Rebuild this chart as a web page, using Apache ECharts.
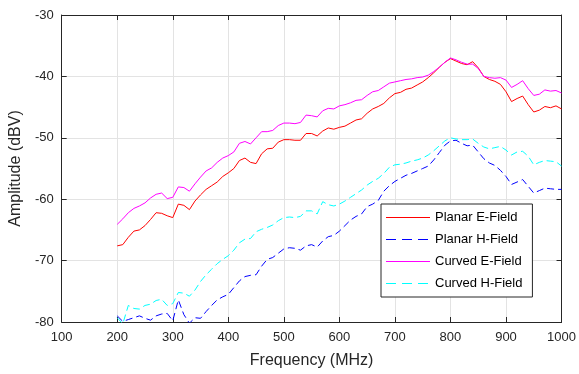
<!DOCTYPE html>
<html><head><meta charset="utf-8">
<script src="https://cdn.jsdelivr.net/npm/echarts@6/dist/echarts.min.js"></script>
<style>html,body{margin:0;padding:0;background:#fff}#c{width:579px;height:374px}</style>
</head><body><div id="c"></div>
<script>
const freq = [200,210,220,230,240,250,260,270,280,290,300,310,320,330,340,350,360,370,380,390,400,410,420,430,440,450,460,470,480,490,500,510,520,530,540,550,560,570,580,590,600,610,620,630,640,650,660,670,680,690,700,710,720,730,740,750,760,770,780,790,800,810,820,830,840,850,860,870,880,890,900,910,920,930,940,950,960,970,980,990,1000];
const planarE = [-67.6,-67.4,-66.2,-65.2,-65.0,-64.3,-63.3,-62.2,-62.3,-62.7,-63.0,-60.8,-61.0,-61.7,-60.3,-59.3,-58.4,-57.8,-57.2,-56.3,-55.7,-55.0,-53.7,-53.3,-54.0,-54.2,-52.6,-51.8,-51.7,-50.7,-50.3,-50.3,-50.4,-50.4,-49.3,-49.3,-49.7,-48.9,-48.4,-48.6,-48.3,-48.1,-47.6,-47.1,-46.9,-46.0,-45.3,-44.9,-44.4,-43.5,-42.8,-42.6,-42.1,-41.9,-41.4,-40.9,-40.2,-39.4,-38.5,-37.7,-37.1,-37.5,-37.9,-38.1,-37.6,-38.6,-40.0,-40.5,-40.8,-41.3,-42.5,-44.1,-43.6,-43.2,-44.6,-45.8,-45.5,-44.9,-45.1,-44.8,-45.3];
const planarH = [-79.0,-79.9,-79.6,-79.3,-79.0,-79.4,-79.7,-79.0,-78.7,-78.6,-79.8,-76.4,-78.8,-80.2,-79.3,-79.4,-78.3,-77.3,-76.4,-75.9,-75.5,-74.4,-73.3,-72.6,-72.4,-72.3,-70.9,-69.8,-69.5,-68.8,-68.1,-67.9,-68.0,-68.3,-67.6,-67.4,-67.8,-66.8,-66.1,-65.9,-65.2,-64.3,-63.4,-62.8,-62.4,-61.2,-60.8,-60.2,-58.7,-57.8,-57.1,-56.6,-56.1,-55.8,-55.4,-55.0,-54.6,-53.6,-52.4,-51.2,-50.5,-50.4,-50.9,-51.3,-51.2,-52.3,-53.4,-54.1,-54.5,-55.3,-56.3,-57.6,-57.2,-56.8,-57.9,-59.0,-58.6,-58.2,-58.3,-58.4,-58.4];
const curvedE = [-64.1,-63.2,-62.2,-61.5,-61.1,-60.6,-59.8,-59.2,-59.0,-59.9,-59.7,-58.0,-58.1,-58.7,-57.5,-56.4,-55.4,-54.9,-54.0,-53.3,-52.9,-52.3,-50.9,-50.6,-51.0,-50.0,-49.0,-49.0,-48.8,-48.0,-47.6,-47.6,-47.7,-47.5,-46.3,-46.4,-46.6,-45.6,-45.2,-45.3,-44.8,-44.6,-44.3,-43.9,-43.8,-43.1,-42.5,-42.3,-41.7,-41.1,-40.9,-40.7,-40.5,-40.4,-40.2,-40.1,-39.8,-39.2,-38.5,-37.7,-37.0,-37.3,-37.7,-38.0,-38.0,-38.7,-40.0,-40.2,-40.3,-40.2,-40.6,-41.8,-41.3,-40.7,-42.0,-43.1,-42.9,-42.2,-42.4,-42.3,-42.7];
const curvedH = [-79.3,-80.3,-77.3,-77.8,-77.9,-77.3,-77.1,-76.5,-76.3,-77.3,-77.0,-75.2,-75.3,-75.8,-74.8,-73.4,-72.3,-71.4,-70.5,-69.8,-69.2,-68.3,-67.1,-66.5,-66.4,-65.3,-64.9,-64.6,-64.2,-63.5,-63.0,-62.9,-63.0,-62.8,-61.9,-61.9,-62.4,-60.4,-60.9,-61.1,-60.8,-60.3,-59.7,-59.1,-58.5,-57.7,-57.1,-56.6,-55.8,-54.8,-54.4,-54.3,-54.1,-53.8,-53.6,-53.3,-52.8,-52.1,-51.3,-50.5,-50.0,-50.2,-50.3,-50.3,-50.2,-50.9,-51.5,-51.8,-51.6,-51.4,-52.0,-52.8,-52.3,-52.2,-53.0,-54.4,-54.0,-53.7,-53.8,-53.9,-54.6];
const seriesNames = ['Planar E-Field','Planar H-Field','Curved E-Field','Curved H-Field'];
const seriesColors = ['#FF0000','#0000FF','#FF00FF','#00FFFF'];
const seriesDashed = [false,true,false,true];
const xTicks = {min:100, max:1000, interval:100};
const yTicks = {min:-80, max:-30, interval:10};

const FONT = "'Liberation Sans', Arial, sans-serif";
const AX = '#262626';
// legend swatches: a 1px line in a 44x13 box (tiny corner specks keep the box size)
const ICON_SOLID = 'path://M0,0l0.01,0l0,0.01z M0,6h44v1h-44z M44,13l-0.01,0l0,-0.01z';
const ICON_DASH = 'path://M0,0l0.01,0l0,0.01z M0,6h10v1h-10z M16,6h10v1h-10z M32,6h10v1h-10z M44,13l-0.01,0l0,-0.01z';
const chart = echarts.init(document.getElementById('c'), null, {renderer:'canvas'});
function pairs(ys){ return freq.map((f,i)=>[f, ys[i]]); }
function mkSeries(i, ys){
  const color = seriesColors[i];
  return {name:seriesNames[i], type:'line', data:pairs(ys), symbol:'none', clip:true, animation:false,
    lineStyle:{color, width:1, type: seriesDashed[i] ? [7,4] : 'solid'}, itemStyle:{color}};
}
const axisCommon = {axisLine:{show:true,lineStyle:{color:AX,width:1}}, axisTick:{show:true,inside:true,length:5,lineStyle:{color:AX}}};
chart.setOption({
  animation:false,
  color: seriesColors,
  grid:{left:61, right:17, top:15, bottom:48, containLabel:false},
  xAxis:[
    Object.assign({type:'value', min:xTicks.min, max:xTicks.max, interval:xTicks.interval, position:'bottom',
      name:'Frequency (MHz)', nameLocation:'middle', nameGap:31,
      nameTextStyle:{fontFamily:FONT, fontSize:16, color:AX},
      axisLabel:{fontFamily:FONT, fontSize:13, color:AX, margin:9, formatter:(v)=>String(v)},
      splitLine:{show:true, lineStyle:{color:'#E3E3E3', width:1}}}, axisCommon),
    Object.assign({type:'value', min:xTicks.min, max:xTicks.max, interval:xTicks.interval, position:'top',
      axisLabel:{show:false}, splitLine:{show:false}}, axisCommon)
  ],
  yAxis:[
    Object.assign({type:'value', min:yTicks.min, max:yTicks.max, interval:yTicks.interval, position:'left',
      name:'Amplitude (dBV)', nameLocation:'middle', nameGap:30, nameRotate:90,
      nameTextStyle:{fontFamily:FONT, fontSize:16, color:AX},
      axisLabel:{fontFamily:FONT, fontSize:13, color:AX, margin:8, formatter:(v)=>String(v)},
      splitLine:{show:true, lineStyle:{color:'#E3E3E3', width:1}}}, axisCommon),
    Object.assign({type:'value', min:yTicks.min, max:yTicks.max, interval:yTicks.interval, position:'right',
      axisLabel:{show:false}, splitLine:{show:false}}, axisCommon)
  ],
  legend:{show:true, orient:'vertical', left:381, top:204,
    data:seriesNames.map((n,i)=>({name:n, icon: seriesDashed[i] ? ICON_DASH : ICON_SOLID,
      itemStyle:{color:seriesColors[i], borderWidth:0}})),
    backgroundColor:'#fff', borderColor:AX, borderWidth:1, borderRadius:0,
    padding:[7,10,7,5], itemWidth:44, itemHeight:13, itemGap:9, symbolKeepAspect:false,
    itemStyle:{borderWidth:0},
    textStyle:{fontFamily:FONT, fontSize:13, color:'#000'}},
  series:[
    mkSeries(0, planarE),
    mkSeries(1, planarH),
    mkSeries(2, curvedE),
    mkSeries(3, curvedH)
  ]
});
</script></body></html>
